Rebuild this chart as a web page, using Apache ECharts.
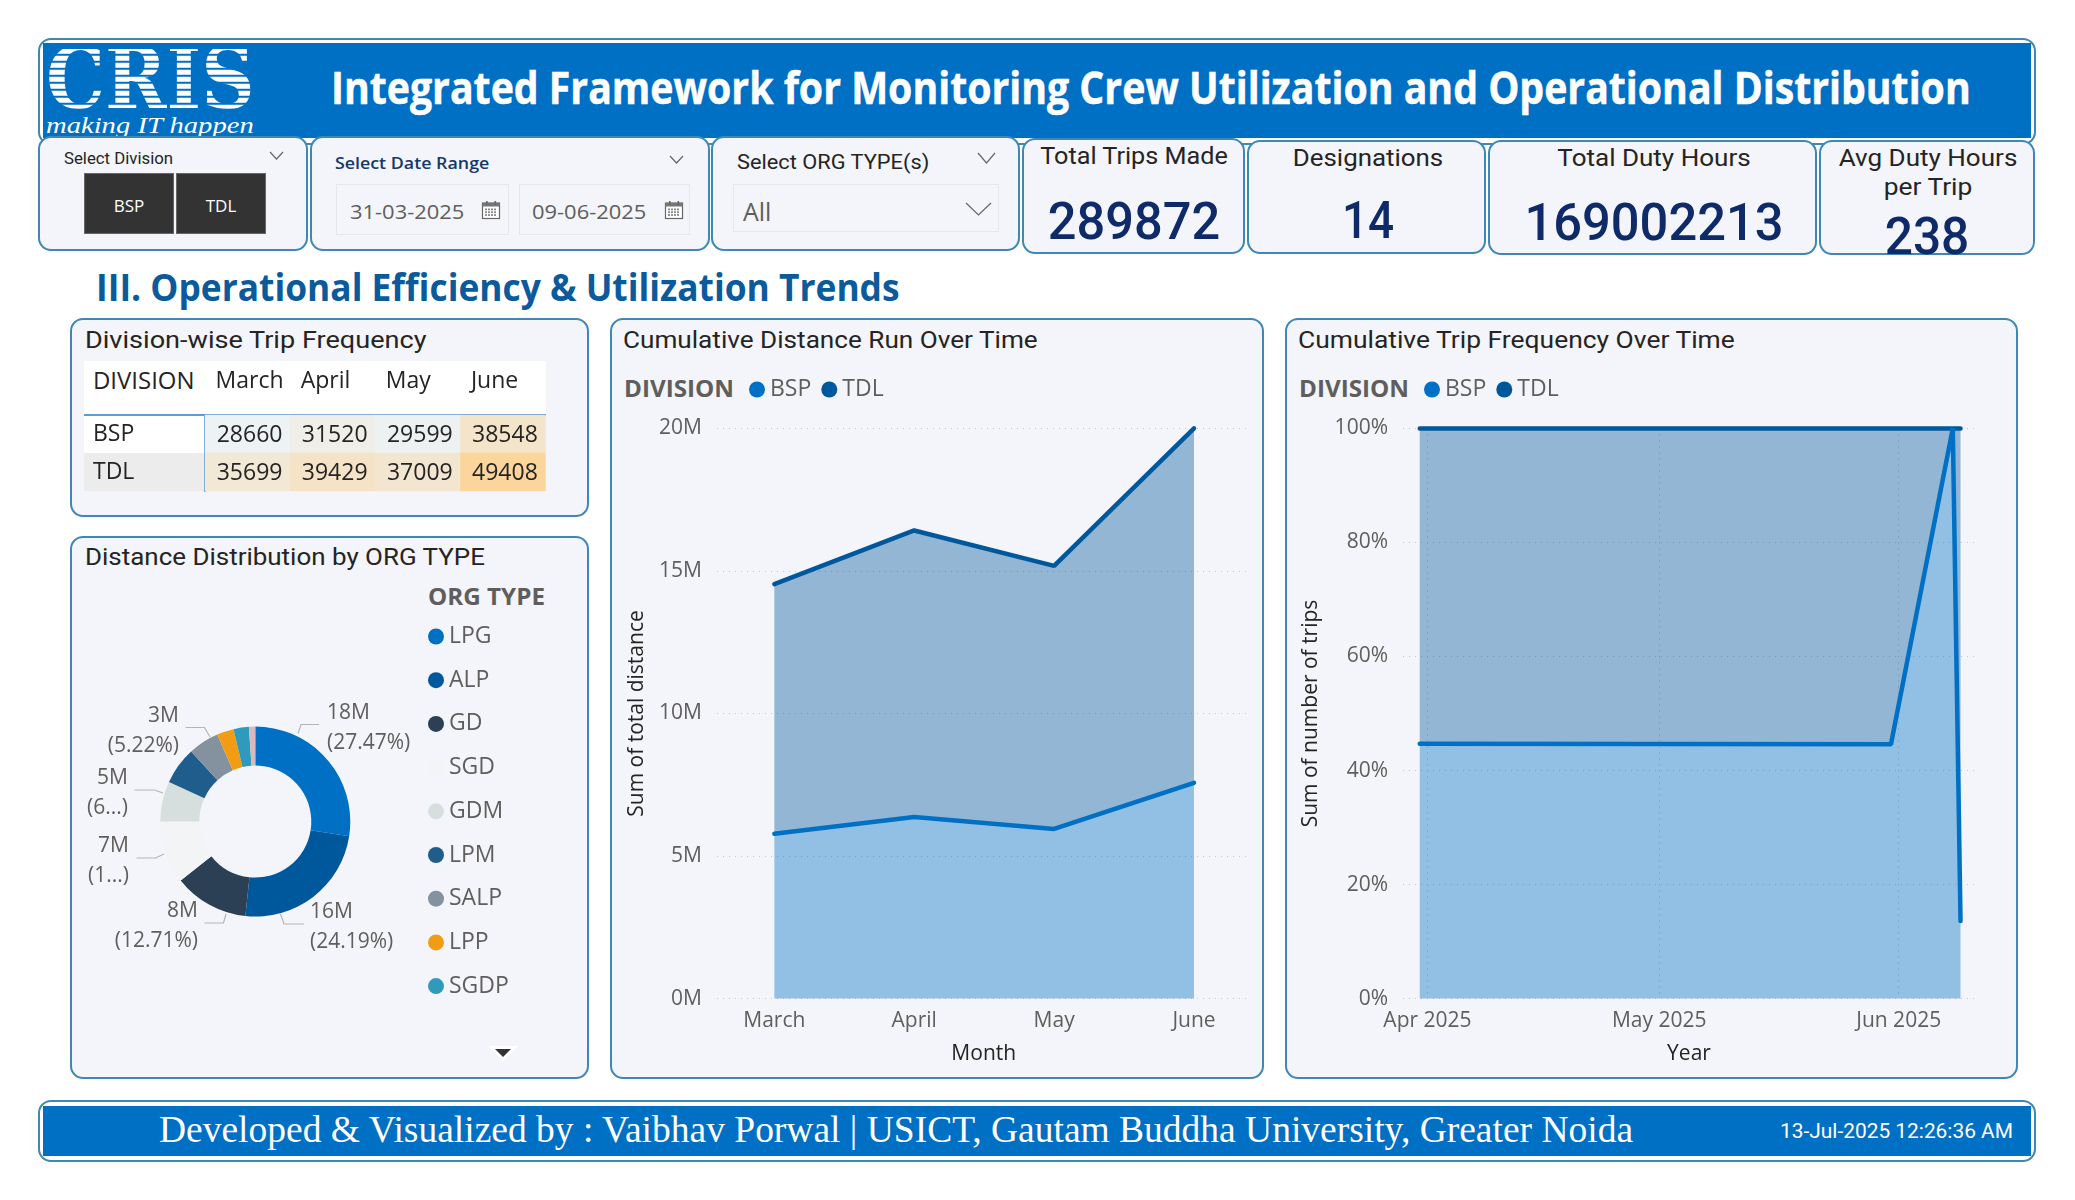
<!DOCTYPE html>
<html>
<head>
<meta charset="utf-8">
<title>Crew Utilization Dashboard</title>
<script src="https://cdn.jsdelivr.net/npm/echarts@6/dist/echarts.min.js"></script>
<style>
  html, body { margin: 0; padding: 0; background: #fff; width: 2075px; height: 1200px; overflow: hidden; }
  #page { position: absolute; left: 0; top: 0; width: 2075px; height: 1200px; }
  #chart { position: absolute; left: 0; top: 0; width: 2075px; height: 1200px; }
  .box { position: absolute; box-sizing: border-box; }
  .card { background: #f3f5fa; border: 2px solid #3f88b5; border-radius: 13px; }
  .txt { position: absolute; white-space: nowrap; line-height: 1; }
  .stripes {
    background: repeating-linear-gradient(to bottom, #fff 0, #fff 5px, #0070c4 5px, #0070c4 7px);
    -webkit-background-clip: text; background-clip: text; color: transparent !important; line-height: 0.72;
  }
</style>
</head>
<body>
<div id="page"></div>
<div id="chart"></div>
<script>
// ---------------------------------------------------------------------------
// Data
// ---------------------------------------------------------------------------
const months = ["March", "April", "May", "June"];
const divisions = ["BSP", "TDL"];
const bspTrips = [28660, 31520, 29599, 38548];
const tdlTrips = [35699, 39429, 37009, 49408];

const orgTypes = ["LPG", "ALP", "GD", "SGD", "GDM", "LPM", "SALP", "LPP", "SGDP", "Other"];
const orgDistance = [18.13, 15.97, 8.39, 7.01, 4.52, 4.19, 3.45, 1.91, 1.72, 0.71]; // millions
const orgColors = ["#0070c4", "#00589c", "#2b3f55", "#f3f4f6", "#d7dede", "#1f5d8c", "#84919f", "#f29c14", "#2f9abb", "#d9b9bd"];
const orgLabels = ["18M\n(27.47%)", "16M\n(24.19%)", "8M\n(12.71%)", "7M\n(1...)", "5M\n(6...)", "", "3M\n(5.22%)", "", "", ""];

const bspDistance = [5.78, 6.37, 5.95, 7.57]; // millions
const tdlDistance = [8.76, 10.05, 9.23, 12.43];

const tripDates = ["2025-03-31", "2025-05-31", "2025-06-08", "2025-06-09"];
const bspTripShare = [44.7, 44.6, 100, 13.6];
const tdlTripShare = [55.3, 55.4, 0, 86.4];
const tripTicks = ["2025-04-01", "2025-05-01", "2025-06-01"];
const tripTickLabels = ["Apr 2025", "May 2025", "Jun 2025"];

const kpiTitles = ["Total Trips Made", "Designations", "Total Duty Hours"];
const kpiValues = ["289872", "14", "169002213"];

// ---------------------------------------------------------------------------
// Page chrome helpers
// ---------------------------------------------------------------------------
const page = document.getElementById("page");
const SEGOE = "'Open Sans', 'Noto Sans', sans-serif";
const DIN = "Roboto, sans-serif";
const INK = "#252423";
const GREY = "#605e5c";

function addBox(x0, y0, x1, y1, cls, css = "") {
  const el = document.createElement("div");
  el.className = "box " + cls;
  el.style.cssText = `left:${x0}px;top:${y0}px;width:${x1 - x0}px;height:${y1 - y0}px;${css}`;
  page.appendChild(el);
  return el;
}

// x is left edge, centre or right edge depending on anchor; width squeezes the text to the measured size
function addText(text, x, y, size, o = {}) {
  const el = document.createElement("div");
  el.className = "txt " + (o.cls || "");
  el.textContent = text;
  el.style.cssText = `left:${x}px;top:${y}px;font-size:${size}px;font-family:${o.font || DIN};color:${o.color || INK};font-weight:${o.weight || 400};`;
  page.appendChild(el);
  const k = o.width ? o.width / el.offsetWidth : 1;
  const anchor = o.anchor || "left";
  const dx = anchor === "left" ? 0 : anchor === "center" ? -50 : -100;
  el.style.transformOrigin = anchor + " center";
  el.style.transform = `translate(${dx}%, -50%) scaleX(${k})`;
  return el;
}

function addChevron(cx, cy, w, h, color = "#666") {
  const el = document.createElementNS("http://www.w3.org/2000/svg", "svg");
  el.setAttribute("width", w + 2);
  el.setAttribute("height", h + 2);
  el.style.cssText = `position:absolute;left:${cx - w / 2 - 1}px;top:${cy - h / 2 - 1}px;`;
  el.innerHTML = `<polyline points="1,1 ${w / 2 + 1},${h + 1} ${w + 1},1" fill="none" stroke="${color}" stroke-width="1.2"/>`;
  page.appendChild(el);
}

function addCalendar(cx, cy) {
  const el = document.createElementNS("http://www.w3.org/2000/svg", "svg");
  el.setAttribute("width", 20);
  el.setAttribute("height", 20);
  el.style.cssText = `position:absolute;left:${cx - 10}px;top:${cy - 10}px;`;
  let dots = "";
  for (let r = 0; r < 3; r++) for (let c = 0; c < 4; c++) dots += `<rect x="${4 + c * 3}" y="${8.5 + r * 2.8}" width="2" height="1.8" fill="#8a8a8a"/>`;
  el.innerHTML = `<rect x="1.5" y="3" width="17" height="15.5" fill="#fff" stroke="#666" stroke-width="1.2"/><rect x="1.5" y="3" width="17" height="3.5" fill="#777"/><rect x="5" y="1" width="1.6" height="3.5" fill="#666"/><rect x="13.5" y="1" width="1.6" height="3.5" fill="#666"/>${dots}`;
  page.appendChild(el);
}

// ---------------------------------------------------------------------------
// Header and footer
// ---------------------------------------------------------------------------
addBox(38, 38, 2036, 145, "", "background:#fff;border:2px solid #3f88b5;border-radius:13px;");
addBox(43, 43, 2031, 138, "", "background:#0070c4;");
addText("CRIS", 46, 79, 84, { font: "'DejaVu Serif', serif", weight: 700, cls: "stripes", color: "#fff", width: 209 });
addText("making IT happen", 46, 125, 23, { font: "'Liberation Serif', serif", color: "#fff", width: 209 }).style.fontStyle = "italic";
addText("Integrated Framework for Monitoring Crew Utilization and Operational Distribution", 331, 87, 44, { font: SEGOE, weight: 700, color: "#fff", width: 1640 }).style.webkitTextStroke = "0.5px #fff";

addBox(38, 1100, 2036, 1162, "", "background:#fff;border:2px solid #3f88b5;border-radius:13px;");
addBox(43, 1106, 2031, 1156, "", "background:#0070c4;");
addText("Developed & Visualized by : Vaibhav Porwal | USICT, Gautam Buddha University, Greater Noida", 159, 1129, 38, { font: "'Liberation Serif', serif", color: "#fff", width: 1474 });
addText("13-Jul-2025 12:26:36 AM", 1780, 1131, 20, { color: "#fff", width: 233 });

// ---------------------------------------------------------------------------
// Slicers
// ---------------------------------------------------------------------------
addBox(38, 136, 308, 251, "card");
addText("Select Division", 64, 159, 16, { width: 109 });
addChevron(276, 155, 13, 7);
addBox(84, 173, 174, 234, "", "background:#333;border:1.5px solid #666;");
addBox(176, 173, 266, 234, "", "background:#333;border:1.5px solid #666;");
addText("BSP", 129, 205, 17, { anchor: "center", color: "#fff", font: SEGOE });
addText("TDL", 221, 205, 17, { anchor: "center", color: "#fff", font: SEGOE });

addBox(310, 136, 710, 251, "card");
addText("Select Date Range", 335, 162, 17, { font: SEGOE, weight: 600, color: "#14386b", width: 154 });
addChevron(676, 159, 13, 7);
addBox(336, 184, 509, 235, "", "border:1.5px solid #e6e7ea;");
addBox(519, 184, 690, 235, "", "border:1.5px solid #e6e7ea;");
addText("31-03-2025", 350, 212, 20, { font: SEGOE, color: GREY, width: 114 });
addText("09-06-2025", 532, 212, 20, { font: SEGOE, color: GREY, width: 114 });
addCalendar(491, 210);
addCalendar(674, 210);

addBox(711, 136, 1020, 251, "card");
addText("Select ORG TYPE(s)", 737, 162, 21, { width: 192 });
addChevron(986, 158, 17, 10);
addBox(733, 184, 999, 232, "", "border:1.5px solid #e6e7ea;");
addText("All", 743, 211, 25, { font: SEGOE, color: GREY });
addChevron(978, 209, 25, 12);

// ---------------------------------------------------------------------------
// KPI cards
// ---------------------------------------------------------------------------
const NAVY = "#0e2a68";
addBox(1022, 138, 1245, 254, "card");
addBox(1247, 140, 1486, 254, "card");
addBox(1488, 140, 1817, 255, "card");
addBox(1819, 140, 2035, 255, "card");
addText(kpiTitles[0], 1134, 156, 24, { anchor: "center", width: 188 });
addText(kpiTitles[1], 1368, 158, 24, { anchor: "center", width: 151 });
addText(kpiTitles[2], 1654, 158, 24, { anchor: "center", width: 193 });
addText("Avg Duty Hours", 1928, 158, 24, { anchor: "center", width: 179 });
addText("per Trip", 1928, 187, 24, { anchor: "center", width: 89 });
addText(kpiValues[0], 1134, 222, 52, { anchor: "center", color: NAVY, weight: 500, width: 172 });
addText(kpiValues[1], 1368, 221, 52, { anchor: "center", color: NAVY, weight: 500, width: 52 });
addText(kpiValues[2], 1654, 223, 52, { anchor: "center", color: NAVY, weight: 500, width: 259 });
addText("238", 1927, 237, 52, { anchor: "center", color: NAVY, weight: 500, width: 85 });

addText("III. Operational Efficiency & Utilization Trends", 96, 286, 37, { font: SEGOE, weight: 700, color: "#0a5a9c", width: 804 });

// ---------------------------------------------------------------------------
// Chart panels
// ---------------------------------------------------------------------------
addBox(70, 318, 589, 517, "card");
addBox(70, 536, 589, 1079, "card");
addBox(610, 318, 1264, 1079, "card");
addBox(1285, 318, 2018, 1079, "card");
addText("Division-wise Trip Frequency", 85, 340, 24, { width: 342 });
addText("Distance Distribution by ORG TYPE", 85, 557, 24, { width: 400 });
addText("Cumulative Distance Run Over Time", 623, 340, 24, { width: 415 });
addText("Cumulative Trip Frequency Over Time", 1298, 340, 24, { width: 437 });

// matrix backing: header band and row header cells
addBox(84, 361, 546, 415, "", "background:#fff;");
addBox(84, 415, 205, 453, "", "background:#fff;");
addBox(84, 453, 205, 491, "", "background:#ececec;");
addBox(84, 414, 546, 416, "", "background:#5a9bd8;");
addText("DIVISION", 93, 380, 23, { font: SEGOE, width: 102 });

addText("ORG TYPE", 428, 596, 24, { font: SEGOE, weight: 700, color: GREY, width: 117 });
addText("DIVISION", 624, 388, 24, { font: SEGOE, weight: 700, color: GREY, width: 110 });
addText("DIVISION", 1299, 388, 24, { font: SEGOE, weight: 700, color: GREY, width: 110 });

// legend scroll arrow
addBox(488, 1046, 488, 1046, "", "border-left:15px solid transparent;border-right:15px solid transparent;border-top:15px solid #fff;width:0;height:0;");
addBox(495, 1049, 495, 1049, "", "border-left:8px solid transparent;border-right:8px solid transparent;border-top:8px solid #333;width:0;height:0;");

// ---------------------------------------------------------------------------
// ECharts
// ---------------------------------------------------------------------------
const chart = echarts.init(document.getElementById("chart"));

const tickLabel = { color: GREY, fontSize: 21, fontFamily: SEGOE };
const axisName = { color: INK, fontSize: 21, fontFamily: SEGOE };
const dotted = { lineStyle: { color: "#c4c4c4", type: [1, 5], width: 1 } };
const noLine = { axisLine: { show: false }, axisTick: { show: false } };
const BSP_COLOR = "#0070c4";
const TDL_COLOR = "#00589c";
const toMs = (d) => +new Date(d);
const tripTickMs = tripTicks.map(toMs);

// pie label spots and their leader lines, same order as orgLabels
const pieLabelSpots = {
  0: { x: 327, y: 728, align: "left", line: [[298, 733.5], [301, 724.5], [319, 724.5]] },
  1: { x: 310, y: 927, align: "left", line: [[280.5, 914], [284, 924], [304, 924]] },
  2: { x: 198, y: 926, align: "right", line: [[226, 914], [223.5, 923], [204.5, 923]] },
  3: { x: 129, y: 861, align: "right", line: [[164, 854], [155.5, 858], [136.5, 858]] },
  4: { x: 128, y: 793, align: "right", line: [[163, 793], [154.5, 790], [134.5, 790]] },
  6: { x: 179, y: 731, align: "right", line: [[210, 737], [204.5, 727.5], [185.5, 727.5]] },
};

// values come first in each point so that the stack runs along y on the value/value grids
function areaSeries(name, color, xs, values, index, z) {
  return {
    name,
    type: "line",
    stack: "total" + index,
    xAxisIndex: index,
    yAxisIndex: index,
    data: values.map((v, i) => [v, xs[i]]),
    encode: { x: 1, y: 0 },
    showSymbol: false,
    clip: false,
    z,
    lineStyle: { color, width: 4.5, cap: "round" },
    itemStyle: { color },
    areaStyle: { color, opacity: 0.4 },
  };
}

const legendBase = {
  padding: 0,
  icon: "circle",
  itemWidth: 16,
  itemHeight: 16,
  itemGap: 10,
  textStyle: { color: GREY, fontSize: 23, fontFamily: SEGOE },
};

const option = {
  animation: false,
  backgroundColor: "transparent",
  textStyle: { fontFamily: SEGOE },
  visualMap: {
    show: false,
    seriesIndex: 0,
    dimension: 2,
    min: 28660,
    max: 49408,
    inRange: { color: ["#edf2f5", "#fbd59b"] },
  },
  legend: [
    { ...legendBase, data: orgTypes.slice(0, 9), orient: "vertical", left: 428, top: 625, itemGap: 20.7 },
    { ...legendBase, data: divisions, left: 749, top: 378 },
    { ...legendBase, data: divisions, left: 1424, top: 378 },
  ],
  grid: [
    { left: 717, width: 533.5, top: 428.4, height: 570.2 },
    { left: 1403, width: 572, top: 428.4, height: 570.2 },
    { left: 205, width: 340.5, top: 415, height: 76 },
  ],
  xAxis: [
    {
      type: "value",
      gridIndex: 0,
      min: -0.41,
      max: 3.404,
      ...noLine,
      splitLine: { show: false },
      axisLabel: { ...tickLabel, customValues: [0, 1, 2, 3], margin: 12, formatter: (v) => months[v] },
      name: "Month",
      nameLocation: "middle",
      nameGap: 45,
      nameTextStyle: axisName,
    },
    {
      type: "value",
      gridIndex: 1,
      min: toMs("2025-03-28T20:00:00Z"),
      max: toMs("2025-06-10T21:00:00Z"),
      axisLine: { show: false },
      axisTick: { show: false, customValues: tripTickMs },
      splitLine: { show: true, lineStyle: { color: "#aebbc8", type: [1, 5], width: 1 } },
      axisLabel: {
        ...tickLabel,
        customValues: tripTickMs,
        margin: 12,
        formatter: (v) => tripTickLabels[tripTickMs.indexOf(v)],
      },
      name: "Year",
      nameLocation: "middle",
      nameGap: 45,
      nameTextStyle: axisName,
    },
    {
      type: "category",
      gridIndex: 2,
      position: "top",
      data: months,
      ...noLine,
      axisLabel: { color: INK, fontSize: 23, fontFamily: SEGOE, interval: 0, align: "left", margin: 22, padding: [0, 0, 0, -32] },
    },
  ],
  yAxis: [
    {
      type: "value",
      gridIndex: 0,
      min: 0,
      max: 20,
      interval: 5,
      ...noLine,
      axisLabel: { ...tickLabel, margin: 15, padding: [2, 0, 0, 0], formatter: (v) => v + "M" },
      splitLine: { show: true, ...dotted },
      name: "Sum of total distance",
      nameLocation: "middle",
      nameGap: 69,
      nameTextStyle: axisName,
    },
    {
      type: "value",
      gridIndex: 1,
      min: 0,
      max: 100,
      interval: 20,
      ...noLine,
      axisLabel: { ...tickLabel, margin: 15, padding: [2, 0, 0, 0], formatter: (v) => v + "%" },
      splitLine: { show: true, ...dotted },
      name: "Sum of number of trips",
      nameLocation: "middle",
      nameGap: 81,
      nameTextStyle: axisName,
    },
    {
      type: "category",
      gridIndex: 2,
      inverse: true,
      data: divisions,
      axisLine: { show: true, lineStyle: { color: "#5a9bd8", width: 2 } },
      axisTick: { show: false },
      axisLabel: { color: INK, fontSize: 23, fontFamily: SEGOE, align: "left", margin: 112, padding: [3, 0, 0, 0] },
    },
  ],
  series: [
    {
      type: "heatmap",
      xAxisIndex: 2,
      yAxisIndex: 2,
      data: [
        ...bspTrips.map((v, i) => [i, 0, v]),
        ...tdlTrips.map((v, i) => [i, 1, v]),
      ],
      label: {
        show: true,
        color: INK,
        fontSize: 23,
        fontFamily: SEGOE,
        offset: [2, 1.5],
        formatter: (p) => String(p.value[2]),
      },
    },
    {
      type: "pie",
      center: [255.3, 821.6],
      radius: [56, 95],
      startAngle: 90,
      clockwise: true,
      data: orgTypes.map((name, i) => ({
        name,
        value: orgDistance[i],
        itemStyle: { color: orgColors[i] },
        label: { show: !!orgLabels[i] },
        labelLine: { show: !!orgLabels[i] },
      })),
      label: {
        color: GREY,
        fontSize: 21,
        fontFamily: SEGOE,
        lineHeight: 30,
        formatter: (p) => orgLabels[p.dataIndex],
      },
      labelLine: { lineStyle: { color: "#b5b5b5", width: 1.2 } },
      labelLayout: (p) => {
        const s = pieLabelSpots[p.dataIndex];
        if (!s) return {};
        return { x: s.x, y: s.y, align: s.align, verticalAlign: "middle", labelLinePoints: s.line };
      },
    },
    areaSeries("BSP", BSP_COLOR, [0, 1, 2, 3], bspDistance, 0, 3),
    areaSeries("TDL", TDL_COLOR, [0, 1, 2, 3], tdlDistance, 0, 2),
    areaSeries("BSP", BSP_COLOR, tripDates.map(toMs), bspTripShare, 1, 3),
    areaSeries("TDL", TDL_COLOR, tripDates.map(toMs), tdlTripShare, 1, 2),
  ],
};

chart.setOption(option);
</script>
</body>
</html>
